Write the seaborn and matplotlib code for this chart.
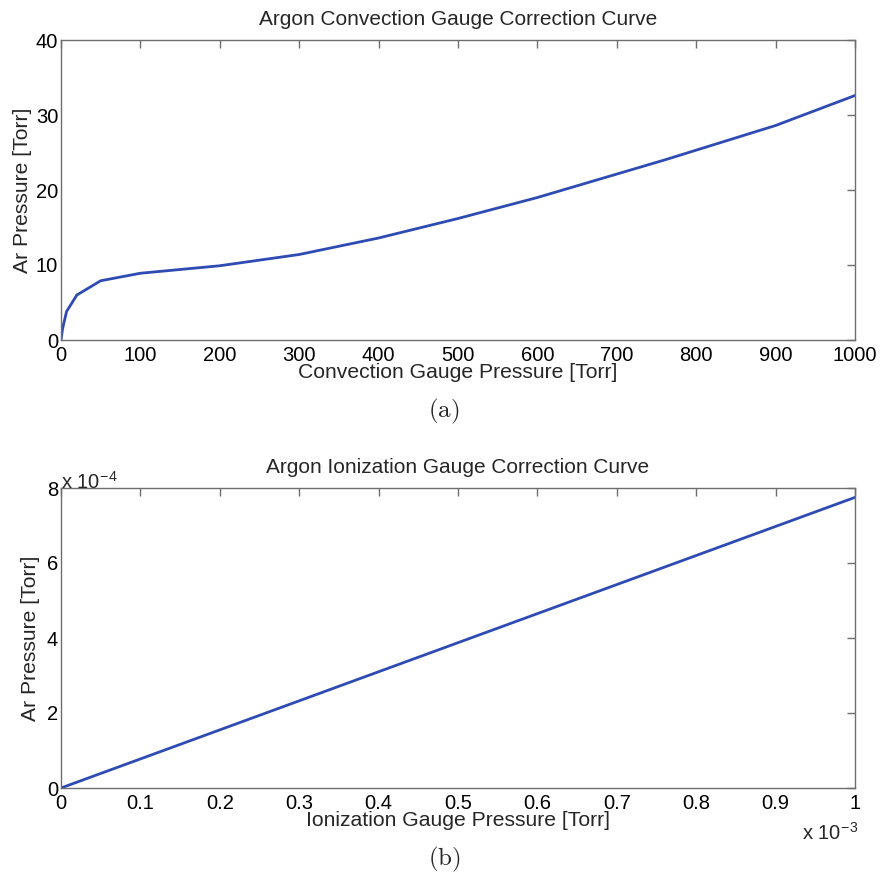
import matplotlib
matplotlib.use("Agg")
import matplotlib.pyplot as plt
import seaborn as sns
import numpy as np
import pandas as pd
from matplotlib.ticker import FuncFormatter

# --- data ---
conv_gauge = [0, 2, 7, 20, 50, 100, 150, 200, 300, 400, 500, 600, 760, 900, 1000]
conv_argon = [0, 1.5, 3.8, 6.0, 7.9, 8.9, 9.4, 9.9, 11.4, 13.6, 16.2, 19.0, 24.0, 28.6, 32.6]

ion_gauge = [0, 0.1e-3, 0.2e-3, 0.3e-3, 0.4e-3, 0.5e-3, 0.6e-3, 0.7e-3, 0.8e-3, 0.9e-3, 1.0e-3]
ion_argon = [0, 0.775e-4, 1.55e-4, 2.325e-4, 3.1e-4, 3.875e-4, 4.65e-4, 5.425e-4, 6.2e-4, 6.975e-4, 7.75e-4]

top_xticks = [0, 100, 200, 300, 400, 500, 600, 700, 800, 900, 1000]
top_yticks = [0, 10, 20, 30, 40]
bot_xticks = [0, 0.1e-3, 0.2e-3, 0.3e-3, 0.4e-3, 0.5e-3, 0.6e-3, 0.7e-3, 0.8e-3, 0.9e-3, 1.0e-3]
bot_yticks = [0, 2e-4, 4e-4, 6e-4, 8e-4]

sns.set_style("white")
plt.rcParams['font.family'] = ['Liberation Sans', 'DejaVu Sans']
plt.rcParams['mathtext.fontset'] = 'cm'

LINE = '#2E4BB3'
SPINE = '#6E6E6E'
TICK_FS = 14.5
LABEL_FS = 15.2
TITLE_FS = 15

fig = plt.figure(figsize=(8.82, 8.82), dpi=100)
ax1 = fig.add_axes([61/882, 1-340/882, 794/882, 300/882])
ax2 = fig.add_axes([61/882, 1-788/882, 794/882, 300/882])

df1 = pd.DataFrame({'x': conv_gauge, 'y': conv_argon})
df2 = pd.DataFrame({'x': ion_gauge, 'y': ion_argon})
sns.lineplot(data=df1, x='x', y='y', ax=ax1, color=LINE, linewidth=2.0)
sns.lineplot(data=df2, x='x', y='y', ax=ax2, color=LINE, linewidth=2.0)

def style(ax):
    for s in ax.spines.values():
        s.set_visible(True)
        s.set_color(SPINE)
        s.set_linewidth(1.0)
    ax.tick_params(direction='in', length=6, width=1.0, color=SPINE,
                   labelsize=TICK_FS, labelcolor='black', top=True, right=True,
                   pad=2)
    ax.tick_params(axis='x', pad=4)

ax1.set_xlim(0, 1000); ax1.set_ylim(0, 40)
ax1.set_xticks(top_xticks); ax1.set_yticks(top_yticks)
style(ax1)
ax1.set_xlabel('Convection Gauge Pressure [Torr]', fontsize=LABEL_FS, labelpad=-1)
ax1.set_ylabel('Ar Pressure [Torr]', fontsize=LABEL_FS, labelpad=3)
ax1.set_title('Argon Convection Gauge Correction Curve', fontsize=TITLE_FS, pad=11)

ax2.set_xlim(0, 1e-3); ax2.set_ylim(0, 8e-4)
ax2.set_xticks(bot_xticks); ax2.set_yticks(bot_yticks)
ax2.xaxis.set_major_formatter(FuncFormatter(lambda v, p: ('%g' % round(v / 1e-3, 6))))
ax2.yaxis.set_major_formatter(FuncFormatter(lambda v, p: ('%g' % round(v / 1e-4, 6))))
style(ax2)
ax2.set_xlabel('Ionization Gauge Pressure [Torr]', fontsize=LABEL_FS, labelpad=-1)
ax2.set_ylabel('Ar Pressure [Torr]', fontsize=LABEL_FS, labelpad=5)
ax2.set_title('Argon Ionization Gauge Correction Curve', fontsize=TITLE_FS, pad=11)

# MATLAB-style exponent labels
fig.text(61/882, 1-489/882, r'x 10$^{\mathregular{-4}}$', fontsize=TICK_FS, ha='left', va='baseline')
fig.text(802/882, 1-840/882, r'x 10$^{\mathregular{-3}}$', fontsize=TICK_FS, ha='left', va='baseline')

# Sub-captions
fig.text(444/882, 1-411/882, r'$\mathrm{(a)}$', fontsize=18, ha='center', va='center')
fig.text(444/882, 1-859/882, r'$\mathrm{(b)}$', fontsize=18, ha='center', va='center')

fig.savefig('out.png', dpi=100, facecolor='white')
